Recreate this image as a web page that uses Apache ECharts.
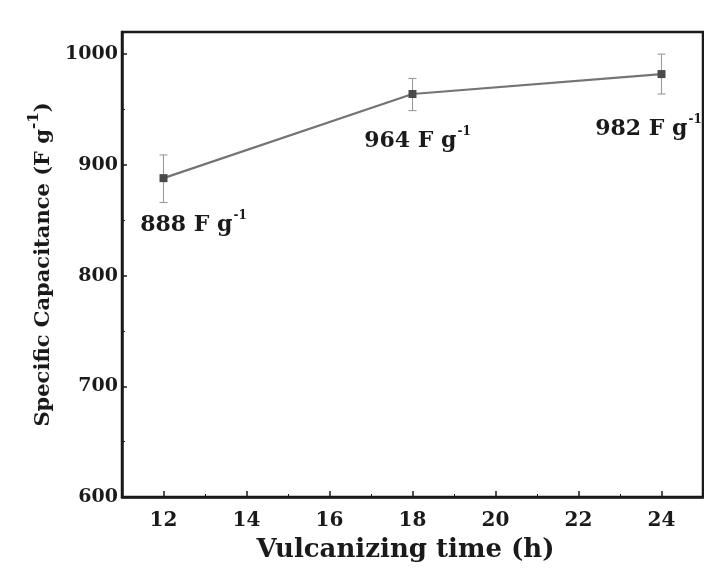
<!DOCTYPE html>
<html>
<head>
<meta charset="utf-8">
<script src="https://cdn.jsdelivr.net/npm/echarts@6/dist/echarts.min.js"></script>
<style>
  html, body { margin: 0; padding: 0; background: #fff; }
  #chart { width: 704px; height: 576px; }
</style>
</head>
<body>
<div id="chart"></div>
<script>
// Vulcanizing time (h) and specific capacitance (F g-1) with error limits
const times = [12, 18, 24];
const capacitance = [888, 964, 982];
const errLow = [866, 949, 964];
const errHigh = [909, 978, 1000];

const xMajorTicks = [12, 14, 16, 18, 20, 22, 24];
const xMinorTicks = [13, 15, 17, 19, 21, 23];
const yMajorTicks = [600, 700, 800, 900, 1000];
const yMinorTicks = [650, 750, 850, 950];

// label offsets for each point annotation [dx, dy]
const labelOffsets = [[30, 23], [5, 23], [-13, 31]];

const serif = 'DejaVu Serif';
const ink = '#1a1a1a';

const chart = echarts.init(document.getElementById('chart'));

const gridBox = { left: 122, top: 32, width: 581, height: 465 };

chart.setOption({
  backgroundColor: '#fff',
  animation: false,
  grid: Object.assign({ show: true, borderColor: ink, borderWidth: 2.5, backgroundColor: 'transparent' }, gridBox),
  xAxis: [
    {
      type: 'value', min: 11, max: 25,
      axisLine: { show: true, lineStyle: { color: ink, width: 2.5 } },
      axisTick: { show: true, inside: true, length: 6, customValues: xMajorTicks, lineStyle: { color: ink, width: 1.5 } },
      axisLabel: { customValues: xMajorTicks, margin: 14, color: ink, fontFamily: serif, fontWeight: 'bold', fontSize: 20, formatter: v => String(v) },
      splitLine: { show: false },
      name: 'Vulcanizing time (h)', nameLocation: 'middle', nameGap: 40,
      nameTextStyle: { color: ink, fontFamily: serif, fontWeight: 'bold', fontSize: 26, padding: [0, 14, 0, 0] }
    },
    {
      type: 'value', min: 11, max: 25, position: 'bottom',
      axisLine: { show: false },
      axisTick: { show: true, inside: true, length: 3, customValues: xMinorTicks, lineStyle: { color: ink, width: 1 } },
      axisLabel: { show: false },
      splitLine: { show: false }
    }
  ],
  yAxis: [
    {
      type: 'value', min: 600, max: 1020,
      axisLine: { show: true, lineStyle: { color: ink, width: 2.5 } },
      axisTick: { show: true, inside: true, length: 5, customValues: yMajorTicks, lineStyle: { color: ink, width: 1.5 } },
      axisLabel: { customValues: yMajorTicks, margin: 4, color: ink, fontFamily: serif, fontWeight: 'bold', fontSize: 19, formatter: v => String(v) },
      splitLine: { show: false },
      name: '{a|Specific Capacitance (F g}{s|-1}{a|)}',
      nameLocation: 'middle', nameGap: 55,
      nameTextStyle: {
        rich: {
          a: { color: ink, fontFamily: serif, fontWeight: 'bold', fontSize: 21, lineHeight: 28, verticalAlign: 'bottom' },
          s: { color: ink, fontFamily: serif, fontWeight: 'bold', fontSize: 15, lineHeight: 28, verticalAlign: 'top', padding: [0, 0, 4, 0] }
        }
      }
    },
    {
      type: 'value', min: 600, max: 1020, position: 'left',
      axisLine: { show: false },
      axisTick: { show: true, inside: true, length: 3, customValues: yMinorTicks, lineStyle: { color: ink, width: 1 } },
      axisLabel: { show: false },
      splitLine: { show: false }
    }
  ],
  series: [
    {
      type: 'custom',
      xAxisIndex: 0, yAxisIndex: 0,
      data: times.map((t, i) => [t, errLow[i], errHigh[i]]),
      renderItem: function (params, api) {
        const lo = api.coord([api.value(0), api.value(1)]);
        const hi = api.coord([api.value(0), api.value(2)]);
        const cap = 4;
        const style = { stroke: '#9a9a9a', lineWidth: 1.1 };
        return {
          type: 'group',
          children: [
            { type: 'line', shape: { x1: hi[0], y1: hi[1], x2: lo[0], y2: lo[1] }, style: style },
            { type: 'line', shape: { x1: hi[0] - cap, y1: hi[1], x2: hi[0] + cap, y2: hi[1] }, style: style },
            { type: 'line', shape: { x1: lo[0] - cap, y1: lo[1], x2: lo[0] + cap, y2: lo[1] }, style: style }
          ]
        };
      },
      z: 2
    },
    {
      type: 'line',
      xAxisIndex: 0, yAxisIndex: 0,
      data: times.map((t, i) => ({
        value: [t, capacitance[i]],
        label: { offset: labelOffsets[i] }
      })),
      symbol: 'rect', symbolSize: 8,
      lineStyle: { color: '#747474', width: 2.2 },
      itemStyle: { color: '#4a4a4a' },
      label: {
        show: true, position: 'bottom',
        formatter: p => '{v|' + p.value[1] + ' F g}{s|-1}',
        rich: {
          v: { color: ink, fontFamily: serif, fontWeight: 'bold', fontSize: 22, lineHeight: 26, verticalAlign: 'bottom' },
          s: { color: ink, fontFamily: serif, fontWeight: 'bold', fontSize: 12, lineHeight: 26, verticalAlign: 'top', padding: [0, 0, 8, 1] }
        }
      },
      z: 3
    }
  ]
});
</script>
</body>
</html>
